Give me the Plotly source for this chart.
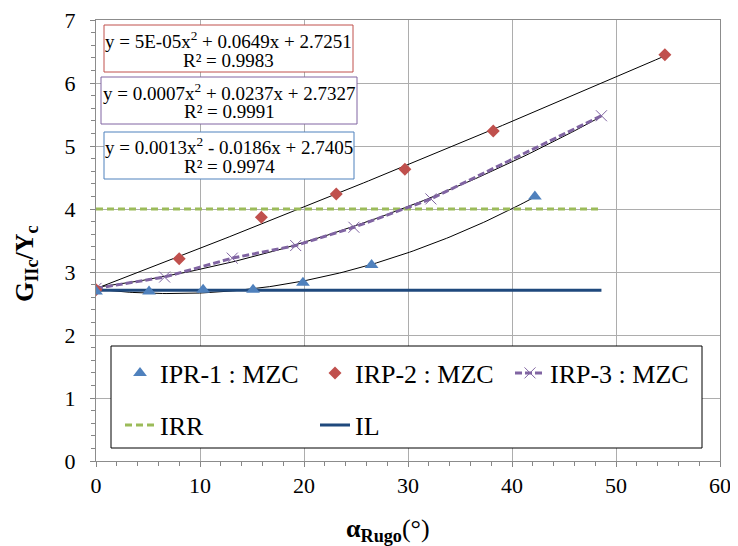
import numpy as np
import plotly.graph_objects as go

# ---- data ----
ipr1_x = [0, 5.1, 10.3, 15.1, 19.9, 26.5, 42.2]
ipr1_y = [2.69, 2.69, 2.72, 2.72, 2.83, 3.11, 4.20]
irp2_x = [0, 8.0, 15.9, 23.1, 29.7, 38.2, 54.7]
irp2_y = [2.72, 3.21, 3.87, 4.24, 4.63, 5.24, 6.45]
irp3_x = [0, 6.6, 13.1, 19.2, 24.8, 32.2, 48.6]
irp3_y = [2.74, 2.92, 3.22, 3.42, 3.71, 4.16, 5.48]
irr_x = [0, 48.6]
irr_y = [4.0, 4.0]
il_x = [0, 48.6]
il_y = [2.71, 2.71]

names = ["IPR-1 : MZC", "IRP-2 : MZC", "IRP-3 : MZC", "IRR", "IL"]
eq_lines = [
    ["y = 5E-05x<sup>2</sup> + 0.0649x + 2.7251", "R² = 0.9983"],
    ["y = 0.0007x<sup>2</sup> + 0.0237x + 2.7327", "R² = 0.9991"],
    ["y = 0.0013x<sup>2</sup> - 0.0186x + 2.7405", "R² = 0.9974"],
]
eq_colors = ["#C0504D", "#8064A2", "#4F81BD"]

FONT = "Liberation Serif, Times New Roman, serif"
OFF = 8  # default page body margin
W, H = 730, 538
ML, MR, MT, MB = 88, 18, 12, 85
PW, PH = W - ML - MR, H - MT - MB


def px_x(p):
    return (p - OFF - ML) / PW


def px_y(p):
    return (H - MB - (p - OFF)) / PH


fig = go.Figure()

# polynomial trendlines (2nd order fit of each series)
for xs, ys in [(ipr1_x, ipr1_y), (irp2_x, irp2_y), (irp3_x, irp3_y)]:
    c = np.polyfit(xs, ys, 2)
    xt = np.linspace(0, max(xs), 120)
    fig.add_trace(go.Scatter(x=xt, y=np.polyval(c, xt), mode="lines",
                             line=dict(color="black", width=1),
                             showlegend=False, hoverinfo="skip"))

fig.add_trace(go.Scatter(x=irr_x, y=irr_y, mode="lines", name=names[3],
                         line=dict(color="#9BBB59", width=3, dash="7px,4px"),
                         legend="legend2"))
fig.add_trace(go.Scatter(x=il_x, y=il_y, mode="lines", name=names[4],
                         line=dict(color="#1F497D", width=3),
                         legend="legend2"))
fig.add_trace(go.Scatter(x=irp3_x, y=irp3_y, mode="lines+markers", name=names[2],
                         line=dict(color="#8064A2", width=3, dash="7px,3px"),
                         marker=dict(symbol="x-thin-open", size=11,
                                     line=dict(color="#8064A2", width=1)),
                         legendrank=3))
fig.add_trace(go.Scatter(x=irp2_x, y=irp2_y, mode="markers", name=names[1],
                         marker=dict(symbol="diamond", size=10, color="#C0504D"),
                         legendrank=2))
fig.add_trace(go.Scatter(x=ipr1_x, y=ipr1_y, mode="markers", name=names[0],
                         marker=dict(symbol="triangle-up", size=12, color="#4F81BD"),
                         legendrank=1))

shapes = []
annotations = []

# legend frame
shapes.append(dict(type="rect", xref="paper", yref="paper", layer="above",
                   x0=px_x(111), x1=px_x(702), y0=px_y(448), y1=px_y(346),
                   fillcolor="white", line=dict(color="black", width=1)))

# equation boxes
boxes = [(104, 353, 25, 72), (101, 357, 77, 124), (104, 354, 132, 179)]
line_y = [(40, 61), (92, 112), (146, 166)]
for (x0, x1, y0, y1), (l1, l2), lines, col in zip(boxes, line_y, eq_lines, eq_colors):
    shapes.append(dict(type="rect", xref="paper", yref="paper", layer="above",
                       x0=px_x(x0), x1=px_x(x1), y0=px_y(y1), y1=px_y(y0),
                       fillcolor="white", line=dict(color=col, width=1)))
    cx = px_x((x0 + x1) / 2)
    for t, yy in zip(lines, (l1, l2)):
        annotations.append(dict(text=t, xref="paper", yref="paper", x=cx, y=px_y(yy),
                                xanchor="center", yanchor="middle", showarrow=False,
                                font=dict(family=FONT, size=19, color="black")))

# axis titles
annotations.append(dict(text="<b>G<sub>IIc</sub>/Y<sub>c</sub></b>", xref="paper", yref="paper",
                        x=px_x(26), y=px_y(264), textangle=-90, showarrow=False,
                        xanchor="center", yanchor="middle",
                        font=dict(family=FONT, size=26, color="black")))
annotations.append(dict(text="<b>α<sub>Rugo</sub></b>(°)", xref="paper", yref="paper",
                        x=px_x(388), y=px_y(530), showarrow=False,
                        xanchor="center", yanchor="middle",
                        font=dict(family=FONT, size=26, color="black")))

axis_common = dict(showline=True, linecolor="#8C8C8C", linewidth=1, mirror=True,
                   ticks="outside", ticklen=5, tickcolor="#868686",
                   showgrid=True, gridcolor="#ADADAD", gridwidth=1,
                   zeroline=False, ticklabeloverflow="allow", automargin=False,
                   tickfont=dict(family=FONT, size=22, color="black"))

legend_common = dict(orientation="h", xanchor="left", yanchor="middle",
                     entrywidth=150, entrywidthmode="pixels", bgcolor="rgba(0,0,0,0)",
                     font=dict(family=FONT, size=26, color="black"), traceorder="normal")

fig.update_layout(
    width=W, height=H,
    margin=dict(l=ML, r=MR, t=MT, b=MB),
    paper_bgcolor="white", plot_bgcolor="white",
    xaxis=dict(range=[0, 60], dtick=10,
               minor=dict(ticks="outside", ticklen=4, dtick=2, tickcolor="#868686", showgrid=False),
               **axis_common),
    yaxis=dict(range=[0, 7], dtick=1, ticklabelstandoff=10,
               minor=dict(ticks="outside", ticklen=4, dtick=0.2, tickcolor="#868686", showgrid=False),
               **axis_common),
    legend=dict(x=px_x(120), y=px_y(373), **legend_common),
    legend2=dict(x=px_x(120), y=px_y(425), **legend_common),
    shapes=shapes,
    annotations=annotations,
    showlegend=True,
)

fig.write_html("out.html")
